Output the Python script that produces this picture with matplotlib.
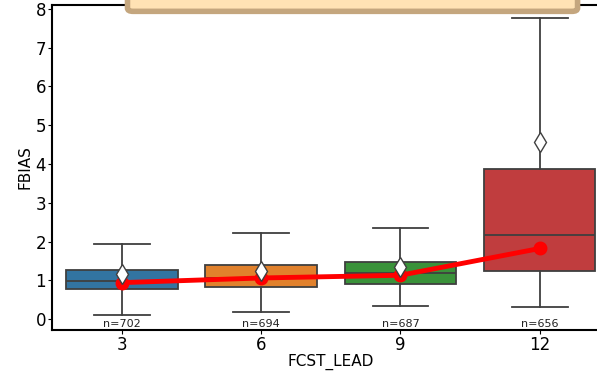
import matplotlib.pyplot as plt
from matplotlib.patches import FancyBboxPatch

# data
leads = [3, 6, 9, 12]
n_obs = [702, 694, 687, 656]
whislo = [0.10, 0.19, 0.34, 0.30]
q1 = [0.77, 0.84, 0.90, 1.24]
med = [0.98, 1.07, 1.18, 2.17]
q3 = [1.26, 1.39, 1.48, 3.87]
whishi = [1.94, 2.22, 2.34, 7.76]
means = [1.16, 1.25, 1.35, 4.57]
agg_fbias = [0.94, 1.06, 1.13, 1.82]
colors = ['#3274a1', '#e1812c', '#3a923a', '#c03d3e']

stats = []
for i in range(len(leads)):
    stats.append({'whislo': whislo[i], 'q1': q1[i], 'med': med[i], 'q3': q3[i],
                  'whishi': whishi[i], 'mean': means[i], 'fliers': []})

fig = plt.figure(figsize=(5.97, 3.72), dpi=100)
ax = fig.add_axes([0.0876, 0.113, 0.933, 0.874])

pos = list(range(len(leads)))
gray = '#3f3f3f'
bp = ax.bxp(stats, positions=pos, widths=0.8, patch_artist=True, showmeans=True,
            showfliers=False,
            boxprops=dict(edgecolor=gray, linewidth=1.3),
            medianprops=dict(color=gray, linewidth=1.3),
            whiskerprops=dict(color=gray, linewidth=1.3),
            capprops=dict(color=gray, linewidth=1.3),
            meanprops=dict(marker='d', markerfacecolor='white', markeredgecolor=gray,
                           markersize=10, zorder=5))
for b, c in zip(bp['boxes'], colors):
    b.set_facecolor(c)

ax.plot(pos, agg_fbias, color='red', linewidth=3.5, marker='o', markersize=9, zorder=4)

for p, n in zip(pos, n_obs):
    ax.text(p, -0.13, 'n=' + str(n), ha='center', va='center', fontsize=8, color='#222222')

ax.set_xlim(-0.5, 3.5)
ax.set_ylim(-0.28, 8.1)
ax.set_xticks(pos)
ax.set_xticklabels([str(l) for l in leads], fontsize=12)
ax.tick_params(axis='both', labelsize=12, length=3, pad=1.5)
ax.set_xlabel('FCST_LEAD', fontsize=11, labelpad=0)
ax.set_ylabel('FBIAS', fontsize=11, labelpad=2)
for s in ax.spines.values():
    s.set_linewidth(1.5)

# lower edge of the legend frame, the rest is outside the picture
frame = FancyBboxPatch((0.14, 0.985), 0.798, 0.2, boxstyle='round,pad=0.005,rounding_size=0.01',
                       transform=ax.transAxes, facecolor='#ffe2b4', edgecolor='#c4a67e',
                       linewidth=4, clip_on=False, zorder=10)
ax.add_patch(frame)

fig.savefig('out.png', dpi=100)
